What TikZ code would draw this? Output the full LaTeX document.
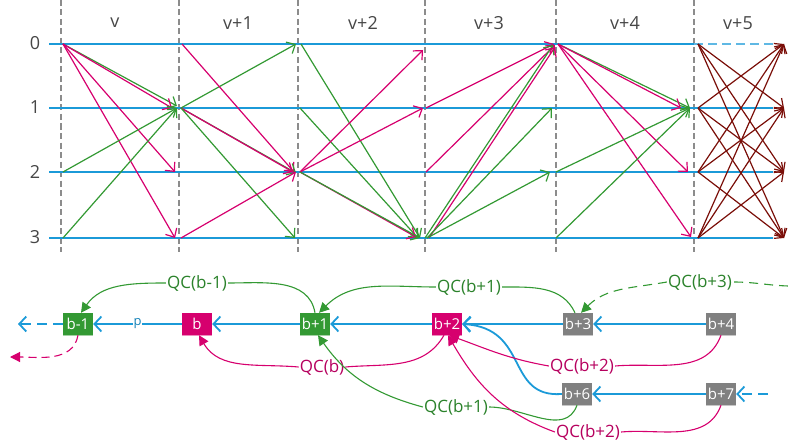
\documentclass[tikz,border=0pt]{standalone}
\usepackage{fontspec}
\setmainfont{Open Sans}
\usetikzlibrary{arrows.meta}
\definecolor{lblue}{RGB}{27,154,216}
\definecolor{mag}{RGB}{214,0,110}
\definecolor{grn}{RGB}{51,153,51}
\definecolor{dred}{RGB}{122,14,8}
\definecolor{gnode}{RGB}{128,128,128}
\definecolor{dgray}{RGB}{140,140,140}
\definecolor{tgray}{RGB}{70,70,70}
\begin{document}
\begin{tikzpicture}[x=1pt,y=-1pt,
  vline/.style={dgray, line width=1.1pt, dash pattern=on 6pt off 3.5pt},
  hrow/.style={lblue, line width=2.6pt},
  arr/.style={line width=1.2pt, -{Straight Barb[length=7pt,width=13pt]}},
  ma/.style={arr, mag}, ga/.style={arr, grn}, ra/.style={arr, dred},
  lab/.style={font=\fontsize{18}{20}\selectfont, text=tgray, inner sep=0pt},
  blk/.style={minimum width=30pt, minimum height=22pt, inner sep=0pt, text=white, font=\fontsize{15}{17}\selectfont},
  barr/.style={lblue, line width=1.8pt, -{Straight Barb[length=7pt,width=15pt]}},
  plab/.style={text=lblue!85!black, fill=white, inner sep=1pt, font=\fontsize{13}{15}\selectfont},
  qg/.style={text=grn!85!black, font=\fontsize{17}{19}\selectfont, inner sep=1pt},
  qm/.style={text=mag!85!black, font=\fontsize{17}{19}\selectfont, inner sep=1pt},
  gc/.style={grn, line width=1.1pt},
  mc/.style={mag, line width=1.1pt},
  tri/.style={-{Triangle[length=10pt,width=10pt]}},
  gdash/.style={dash pattern=on 9pt off 6pt},
]
\useasboundingbox (0,0) rectangle (788,444);
% grid coordinates
\foreach \c/\x in {0/61,1/179,2/298,3/425,4/556,5/694,6/785}
  \foreach \r/\y in {0/44,1/108,2/172,3/238}
    \coordinate (g\c\r) at (\x,\y);
% vertical dashed lines
\foreach \x in {61,179,298,425,556,694}
  \draw[vline] (\x,0) -- (\x,252);
% horizontal rows
\foreach \r/\y in {0/44,1/108,2/172,3/238} {
  \coordinate (rs\r) at (49,\y);
  \coordinate (re\r) at (773,\y);
}
\draw[hrow] (rs0) -- (g50);
\draw[lblue!70!white, line width=1.6pt, dash pattern=on 9pt off 5pt] (g50) -- (re0);
\draw[hrow] (rs1) -- (re1);
\draw[hrow] (rs2) -- (re2);
\draw[hrow] (rs3) -- (re3);
% column labels
\node[lab] (cv0) at (115,23) {v};
\node[lab] (cv1) at (238,23) {v+1};
\node[lab] (cv2) at (363,23) {v+2};
\node[lab] (cv3) at (489,23) {v+3};
\node[lab] (cv4) at (625,23) {v+4};
\node[lab] (cv5) at (738,23) {v+5};
% row labels
\node[lab] (rl0) at (35,43) {0};
\node[lab] (rl1) at (35,107) {1};
\node[lab] (rl2) at (35,172) {2};
\node[lab] (rl3) at (35,237) {3};
% column v
\draw[ga] ([shift={(2,0)}]g00) -- ([shift={(-2,-2)}]g11);
\draw[ma] ([shift={(2,0)}]g00) -- ([shift={(-7,0)}]g11);
\draw[ma] ([shift={(2,0)}]g00) -- ([shift={(-4,0)}]g12);
\draw[ma] ([shift={(2,0)}]g00) -- ([shift={(-4,0)}]g13);
\draw[ga] ([shift={(2,0)}]g02) -- ([shift={(-2,0)}]g11);
\draw[ga] ([shift={(2,0)}]g03) -- ([shift={(-2,0)}]g11);
% column v+1
\draw[ga] ([shift={(2,0)}]g11) -- ([shift={(-2,0)}]g20);
\draw[ma] ([shift={(3,0)}]g10) -- ([shift={(-4,0)}]g22);
\draw[ga] ([shift={(2,0)}]g11) -- ([shift={(-2,1)}]g22);
\draw[ma] ([shift={(2,0)}]g11) -- ([shift={(-5,0)}]g22);
\draw[ga] ([shift={(2,0)}]g11) -- ([shift={(-3,0)}]g23);
\draw[ma] ([shift={(2,0)}]g13) -- ([shift={(-2,0)}]g22);
% column v+2
\draw[ga] ([shift={(3,0)}]g20) -- ([shift={(-5,0)}]g33);
\draw[ga] ([shift={(2,0)}]g21) -- ([shift={(-7,0)}]g33);
\draw[ma] ([shift={(2,0)}]g22) -- ([shift={(-2,6)}]g30);
\draw[ma] ([shift={(2,0)}]g22) -- ([shift={(-2,0)}]g31);
\draw[ma] ([shift={(2,0)}]g22) -- ([shift={(-9,-1)}]g33);
\draw[ga] ([shift={(2,0)}]g22) -- ([shift={(-5,0)}]g33);
% column v+3
\draw[ma] ([shift={(1,0)}]g31) -- ([shift={(-2,0)}]g40);
\draw[ma] ([shift={(1,0)}]g32) -- ([shift={(-1,1)}]g40);
\draw[ga] ([shift={(0,0)}]g33) -- ([shift={(-3,1)}]g40);
\draw[ma] ([shift={(4,0)}]g33) -- ([shift={(-1,3)}]g40);
\draw[ga] ([shift={(2,0)}]g33) -- ([shift={(-4,0)}]g41);
\draw[ga] ([shift={(2,0)}]g33) -- ([shift={(-6,0)}]g42);
% column v+4
\draw[ga] ([shift={(2,0)}]g40) -- ([shift={(-4,0)}]g51);
\draw[ma] ([shift={(2,0)}]g40) -- ([shift={(-13,0)}]g51);
\draw[ma] ([shift={(2,0)}]g40) -- ([shift={(-6,0)}]g52);
\draw[ma] ([shift={(2,0)}]g40) -- ([shift={(-3,-1)}]g53);
\draw[ga] ([shift={(0,0)}]g42) -- ([shift={(-4,0)}]g51);
\draw[ga] ([shift={(0,0)}]g43) -- ([shift={(-4,0)}]g51);
% column v+5
\foreach \a in {0,...,3}
  \foreach \b in {0,...,3} {
    \ifnum\a=\b\else
      \draw[ra] ([shift={(4,0)}]g5\a) -- ([shift={(-1,0)}]g6\b);
    \fi
  }
% ---------- bottom part ----------
\node[blk, fill=grn] (bm1) at (78,324) {b-1};
\node[blk, fill=mag] (b0) at (197,324) {b};
\node[blk, fill=grn] (b1) at (315,324) {b+1};
\node[blk, fill=mag] (b2) at (447,324) {b+2};
\node[blk, fill=gnode] (b3) at (578,324) {b+3};
\node[blk, fill=gnode] (b4) at (721,324) {b+4};
\node[blk, fill=gnode] (b6) at (577,394) {b+6};
\node[blk, fill=gnode] (b7) at (721,394) {b+7};
\foreach \n/\c in {bm1/grn,b0/mag,b1/grn,b2/mag,b3/gnode,b4/gnode,b6/gnode,b7/gnode}
  \draw[\c!45!white, line width=1pt] (\n.south west) -- (\n.south east);
% blue chain
\coordinate (lend) at (18,324);
\coordinate (rend) at (768,394);
\draw[barr] (b4) -- (b3);
\draw[barr] (b3) -- (b2);
\draw[barr] (b2) -- (b1);
\draw[barr] (b1) -- (b0);
\draw[barr] (b0) -- node[plab] (pl) {p} (bm1);
\draw[barr, dash pattern=on 10pt off 6pt] (bm1) -- (lend);
\draw[barr, dash pattern=on 10pt off 6pt] (rend) -- (b7);
\draw[barr] (b7) -- (b6);
\draw[barr] (b6.west) .. controls (505,398) and (530,328) .. (b2.east);
% labels
\node[qg] (L1) at (197,283) {QC(b-1)};
\node[qg] (L2) at (469,287) {QC(b+1)};
\node[qg] (L3) at (700,282) {QC(b+3)};
\node[qm] (L4) at (322,367) {QC(b)};
\node[qm] (L5) at (582,366) {QC(b+2)};
\node[qm] (L6) at (588,432) {QC(b+2)};
\node[qg] (L7) at (456,407) {QC(b+1)};
\coordinate (c3) at (788,286);
\coordinate (mend) at (10,357);
% green curves
\draw[gc] (b1.north) to[out=100,in=0] (L1.east);
\draw[gc,tri] (L1.west) to[out=180,in=55] ([xshift=3pt]bm1.north);
\draw[gc] ([xshift=-3pt]b3.north) to[out=115,in=0] (L2.east);
\draw[gc,tri] (L2.west) to[out=180,in=45] ([xshift=4pt]b1.north);
\draw[gc,gdash] (c3) to[out=178,in=0] (L3.east);
\draw[gc,gdash,tri] (L3.west) to[out=190,in=45] ([xshift=3pt]b3.north);
\draw[gc] (b6.south) to[out=250,in=0] (L7.east);
\draw[gc,tri] (L7.west) to[out=165,in=-55] ([xshift=3pt]b1.south);
% magenta curves
\draw[mc] ([xshift=-3pt]b2.south) to[out=240,in=5] (L4.east);
\draw[mc,tri] (L4.west) to[out=175,in=-60] ([xshift=2pt]b0.south);
\draw[mc] (b4.south) to[out=250,in=5] (L5.east);
\draw[mc,tri] (L5.west) to[out=170,in=-20] ([xshift=2pt]b2.south);
\draw[mc] (b7.south) to[out=250,in=5] (L6.east);
\draw[mc,tri] (L6.west) to[out=160,in=-60] ([xshift=1pt]b2.south);
\draw[mc,dash pattern=on 8pt off 5pt,tri] (bm1.south) to[out=-100,in=0] (mend);
\end{tikzpicture}
\end{document}
